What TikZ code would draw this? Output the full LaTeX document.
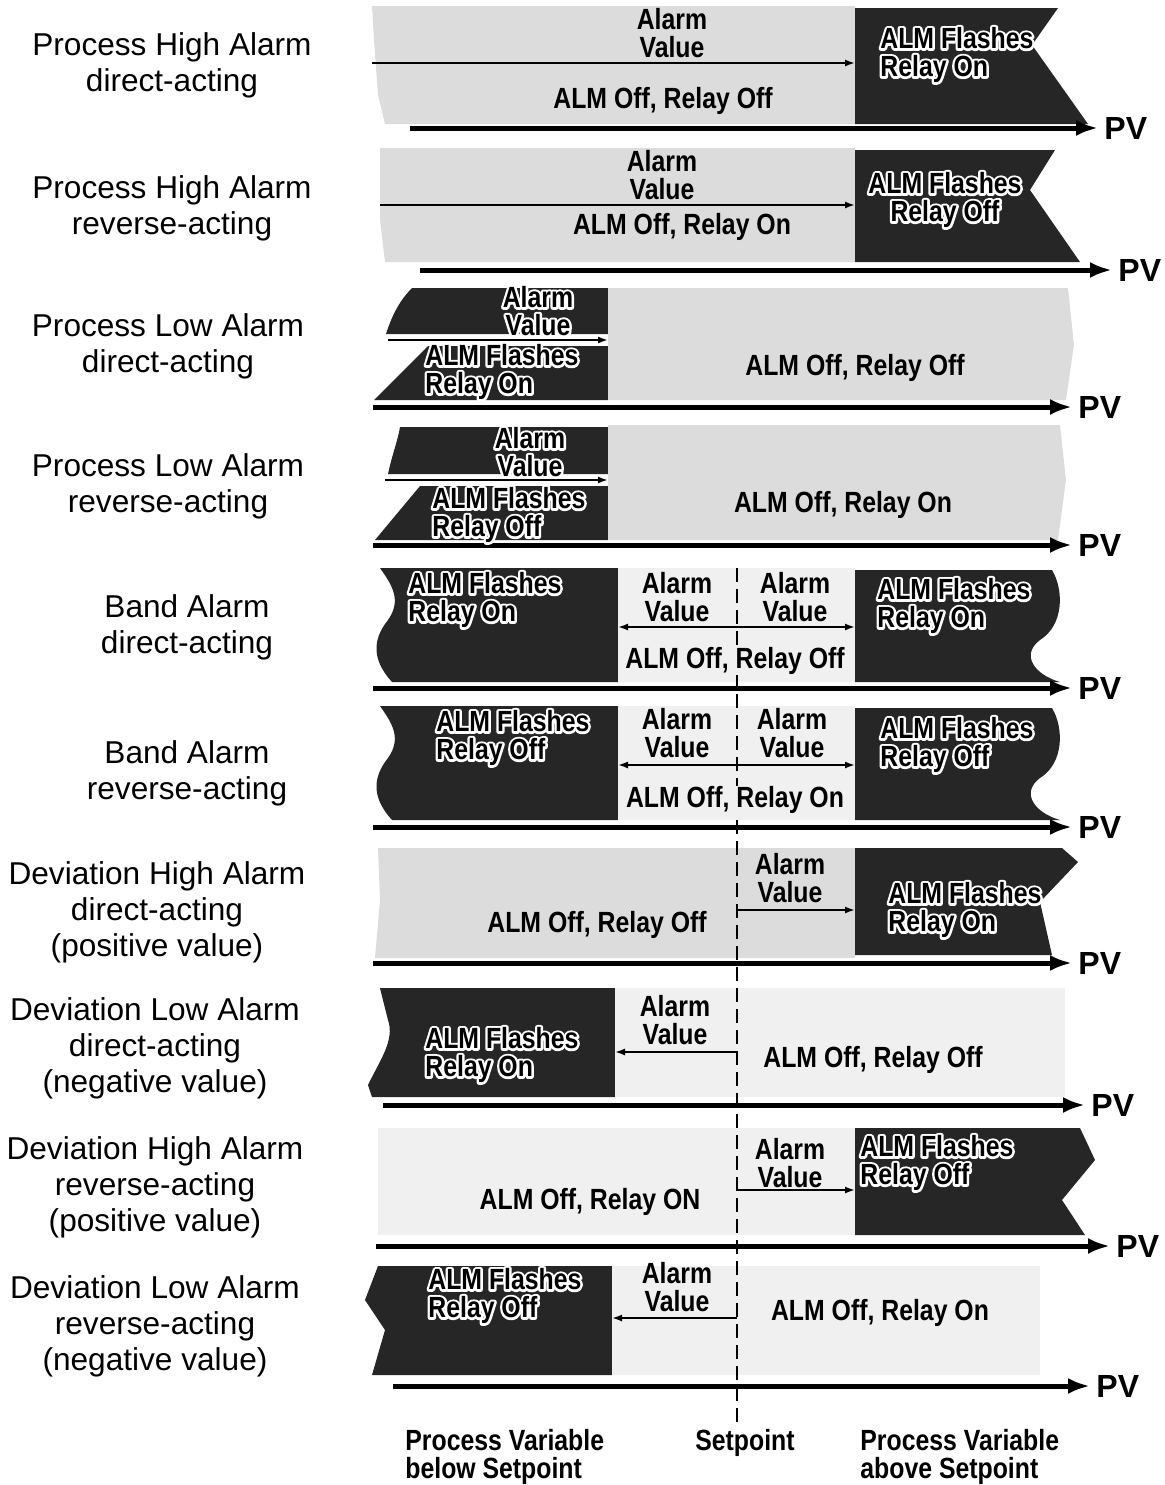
\documentclass[tikz,border=0pt]{standalone}
\usepackage{fontspec}
\setmainfont{Liberation Sans}
\newfontfamily\panelfont[FakeStretch=0.85]{Liberation Sans}
\usepackage{tikz}
\usetikzlibrary{arrows.meta,positioning,calc}
\definecolor{AlmDark}{HTML}{262626}
\definecolor{AlmLight}{HTML}{DCDCDC}
\definecolor{AlmPale}{HTML}{F0F0F0}
\definecolor{AlmInk}{HTML}{000000}
\tikzset{
  rowlabel/.style={font=\fontsize{15.8}{18}\selectfont, text=AlmInk, align=center, inner sep=0pt},
  paneltext/.style={font=\panelfont\bfseries\fontsize{14.6}{14}\selectfont, text=AlmInk, align=center, inner sep=0pt},
  flashtext/.style={paneltext, align=left, anchor=west},
  pvtext/.style={font=\bfseries\fontsize{16}{16}\selectfont, text=AlmInk, anchor=west, inner sep=0pt},
  darkzone/.style={fill=AlmDark},
  lightzone/.style={fill=AlmLight},
  palezone/.style={fill=AlmPale},
  pvaxis/.style={-{Latex[length=11pt,width=8pt]}, line width=2.5pt, draw=AlmInk},
  avarrow/.style={-{Latex[length=5pt,width=3.5pt]}, line width=0.9pt, draw=AlmInk},
  setline/.style={dash pattern=on 7pt off 3.5pt, line width=0.7pt, draw=AlmInk}
}
% white outline behind text on the dark zones
\newcommand{\glowtext}[1]{\mbox{\rlap{\special{pdf:literal direct 1 Tr 1 1 1 RG 2.4 w 1 j}#1\special{pdf:literal direct 0 Tr}}#1}}

\begin{document}
\begin{tikzpicture}[x=0.5pt, y=-0.5pt]
\useasboundingbox (0,0) rectangle (1165,1485);

% zones
\fill[lightzone] (372,6) -- (855,6) -- (855,124) -- (385,124) -- (378,95) -- (374,40) -- cycle;
\fill[darkzone] (855,8) -- (1058,8) -- (1032,45) -- (1088,124) -- (855,124) -- cycle;
\fill[lightzone] (380,148) -- (855,148) -- (855,262) -- (385,262) -- (380,220) -- cycle;
\fill[darkzone] (855,150) -- (1055,150) -- (1030,190) -- (1080,262) -- (855,262) -- cycle;
\fill[darkzone] (412,288) -- (608,288) -- (608,334) -- (386,334) .. controls (392,315) and (400,300) .. cycle;
\fill[darkzone] (428,346) -- (608,346) -- (608,400) -- (374,400) -- cycle;
\fill[lightzone] (608,288) -- (1068,288) -- (1074,345) -- (1066,400) -- (608,400) -- cycle;
\fill[darkzone] (400,427) -- (608,427) -- (608,474) -- (388,474) .. controls (392,455) and (398,440) .. cycle;
\fill[darkzone] (420,486) -- (608,486) -- (608,540) -- (375,540) -- cycle;
\fill[lightzone] (608,425) -- (1060,425) -- (1066,480) -- (1058,540) -- (608,540) -- cycle;
\foreach \dy/\n in {0/5, 138/6} {
  \fill[darkzone] (380,568+\dy) -- (618,568+\dy) -- (618,682+\dy) -- (392,682+\dy)
    .. controls (372,660+\dy) and (372,640+\dy) .. (388,620+\dy)
    .. controls (402,600+\dy) and (392,585+\dy) .. cycle;
  \fill[palezone] (618,568+\dy) rectangle (855,682+\dy);
  \fill[darkzone] (855,570+\dy) -- (1052,570+\dy)
    .. controls (1064,590+\dy) and (1064,625+\dy) .. (1040,640+\dy)
    .. controls (1020,655+\dy) and (1035,675+\dy) .. (1060,682+\dy) -- (855,682+\dy) -- cycle;
}
\fill[lightzone] (378,848) -- (855,848) -- (855,958) -- (375,958) -- (380,900) -- cycle;
\fill[darkzone] (855,848) -- (1062,848) -- (1078,862) -- (1040,902) -- (1052,955) -- (855,955) -- cycle;
\fill[darkzone] (380,988) -- (615,988) -- (615,1097) -- (372,1097) -- (368,1085)
  .. controls (380,1060) and (395,1040) .. (388,1020) -- cycle;
\fill[palezone] (615,988) rectangle (1065,1097);
\fill[palezone] (378,1128) rectangle (855,1235);
\fill[darkzone] (855,1128) -- (1080,1128) -- (1095,1160) -- (1062,1200) -- (1085,1235) -- (855,1235) -- cycle;
\fill[darkzone] (378,1266) -- (612,1266) -- (612,1375) -- (372,1375) -- (385,1330) -- (365,1300) -- cycle;
\fill[palezone] (612,1266) rectangle (1040,1375);

% setpoint
\coordinate (spTop) at (737,568);
\coordinate (spBot) at (737,1428);
\draw[setline] (spTop) -- (spBot);

% PV axes
\foreach \n/\xa/\xb/\yy in {1/410/1098/128, 2/420/1112/270, 3/373/1072/407, 4/373/1072/545, 5/373/1072/688,
    6/373/1072/827, 7/373/1072/963, 8/383/1085/1105, 9/376/1110/1246, 10/393/1090/1386} {
  \coordinate (ax\n s) at (\xa,\yy);
  \coordinate (ax\n e) at (\xb,\yy);
  \draw[pvaxis] (ax\n s) -- (ax\n e);
  \node[pvtext] (pv\n) at ([xshift=3pt]ax\n e) {PV};
}

% alarm value arrows
\coordinate (av1a) at (372,63);   \coordinate (av1b) at (855,63);
\coordinate (av2a) at (380,205);  \coordinate (av2b) at (855,205);
\coordinate (av3a) at (388,340);  \coordinate (av3b) at (608,340);
\coordinate (av4a) at (385,480);  \coordinate (av4b) at (608,480);
\coordinate (av5s) at (737,627);  \coordinate (av5a) at (618,627);  \coordinate (av5b) at (855,627);
\coordinate (av6s) at (737,765);  \coordinate (av6a) at (618,765);  \coordinate (av6b) at (855,765);
\coordinate (av7s) at (737,910);  \coordinate (av7b) at (855,910);
\coordinate (av8s) at (737,1052); \coordinate (av8a) at (615,1052);
\coordinate (av9s) at (737,1190); \coordinate (av9b) at (855,1190);
\coordinate (av10s) at (737,1318); \coordinate (av10a) at (612,1318);
\draw[avarrow] (av1a) -- (av1b);
\draw[avarrow] (av2a) -- (av2b);
\draw[avarrow] (av3a) -- (av3b);
\draw[avarrow] (av4a) -- (av4b);
\draw[avarrow] (av5s) -- (av5a);
\draw[avarrow] (av5s) -- (av5b);
\draw[avarrow] (av6s) -- (av6a);
\draw[avarrow] (av6s) -- (av6b);
\draw[avarrow] (av7s) -- (av7b);
\draw[avarrow] (av8s) -- (av8a);
\draw[avarrow] (av9s) -- (av9b);
\draw[avarrow] (av10s) -- (av10a);

% row labels
\node[rowlabel] (lbl1) at (172,65) {Process High Alarm\\direct-acting};
\node[rowlabel] (lbl2) at (172,208) {Process High Alarm\\reverse-acting};
\node[rowlabel] (lbl3) at (168,346) {Process Low Alarm\\direct-acting};
\node[rowlabel] (lbl4) at (168,486) {Process Low Alarm\\reverse-acting};
\node[rowlabel] (lbl5) at (187,627) {Band Alarm\\direct-acting};
\node[rowlabel] (lbl6) at (187,773) {Band Alarm\\reverse-acting};
\node[rowlabel] (lbl7) at (157,912) {Deviation High Alarm\\direct-acting\\(positive value)};
\node[rowlabel] (lbl8) at (155,1048) {Deviation Low Alarm\\direct-acting\\(negative value)};
\node[rowlabel] (lbl9) at (155,1187) {Deviation High Alarm\\reverse-acting\\(positive value)};
\node[rowlabel] (lbl10) at (155,1326) {Deviation Low Alarm\\reverse-acting\\(negative value)};

% zone texts
\node[paneltext] (val1) at (672,33) {Alarm\\Value};
\node[paneltext] (off1) at (663,101) {ALM Off, Relay Off};
\node[flashtext] (on1) at (880,55) {\glowtext{ALM Flashes}\\\glowtext{Relay On}};
\node[paneltext] (val2) at (662,175) {Alarm\\Value};
\node[paneltext] (off2) at (682,227) {ALM Off, Relay On};
\node[paneltext] (on2) at (945,200) {\glowtext{ALM Flashes}\\\glowtext{Relay Off}};
\node[paneltext] (val3) at (538,311) {\glowtext{Alarm}\\\glowtext{Value}};
\node[flashtext] (on3) at (425,372) {\glowtext{ALM Flashes}\\\glowtext{Relay On}};
\node[paneltext] (off3) at (855,368) {ALM Off, Relay Off};
\node[paneltext] (val4) at (530,452) {\glowtext{Alarm}\\\glowtext{Value}};
\node[flashtext] (on4) at (432,515) {\glowtext{ALM Flashes}\\\glowtext{Relay Off}};
\node[paneltext] (off4) at (843,505) {ALM Off, Relay On};
\node[flashtext] (on5a) at (408,600) {\glowtext{ALM Flashes}\\\glowtext{Relay On}};
\node[paneltext] (val5a) at (677,597) {Alarm\\Value};
\node[paneltext] (val5b) at (795,597) {Alarm\\Value};
\node[paneltext, fill=AlmPale] (off5) at (735,661) {ALM Off, Relay Off};
\node[flashtext] (on5b) at (877,606) {\glowtext{ALM Flashes}\\\glowtext{Relay On}};
\node[flashtext] (on6a) at (436,738) {\glowtext{ALM Flashes}\\\glowtext{Relay Off}};
\node[paneltext] (val6a) at (677,733) {Alarm\\Value};
\node[paneltext] (val6b) at (792,733) {Alarm\\Value};
\node[paneltext, fill=AlmPale] (off6) at (735,800) {ALM Off, Relay On};
\node[flashtext] (on6b) at (880,745) {\glowtext{ALM Flashes}\\\glowtext{Relay Off}};
\node[paneltext] (val7) at (790,878) {Alarm\\Value};
\node[paneltext] (off7) at (597,925) {ALM Off, Relay Off};
\node[flashtext] (on7) at (888,910) {\glowtext{ALM Flashes}\\\glowtext{Relay On}};
\node[flashtext] (on8) at (425,1055) {\glowtext{ALM Flashes}\\\glowtext{Relay On}};
\node[paneltext] (val8) at (675,1020) {Alarm\\Value};
\node[paneltext] (off8) at (873,1060) {ALM Off, Relay Off};
\node[paneltext] (val9) at (790,1163) {Alarm\\Value};
\node[flashtext] (on9) at (860,1163) {\glowtext{ALM Flashes}\\\glowtext{Relay Off}};
\node[paneltext] (off9) at (590,1202) {ALM Off, Relay ON};
\node[flashtext] (on10) at (428,1296) {\glowtext{ALM Flashes}\\\glowtext{Relay Off}};
\node[paneltext] (val10) at (677,1287) {Alarm\\Value};
\node[paneltext] (off10) at (880,1313) {ALM Off, Relay On};

% bottom captions
\node[paneltext, align=left, anchor=west] (below) at (405,1457) {Process Variable\\below Setpoint};
\node[paneltext] (setpt) at (745,1443) {Setpoint};
\node[paneltext, align=left, anchor=west] (above) at (860,1457) {Process Variable\\above Setpoint};
\end{tikzpicture}
\end{document}
